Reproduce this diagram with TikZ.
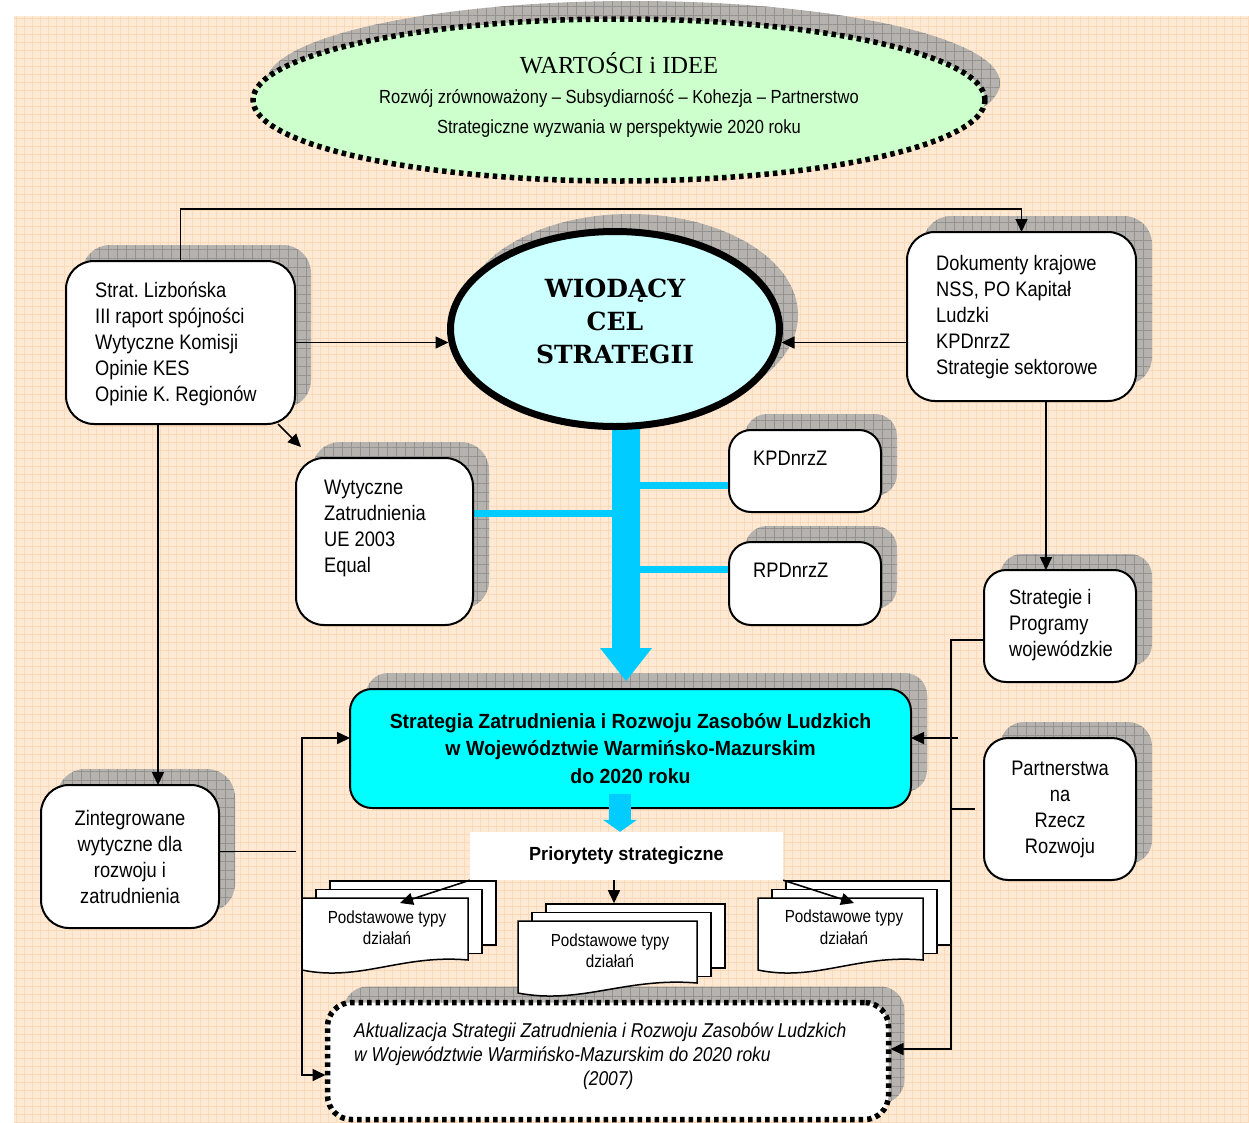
\documentclass[tikz,border=0pt]{standalone}
\usepackage{fontspec}
\usetikzlibrary{shapes.geometric,arrows.meta,calc,patterns.meta}
\newfontfamily\narrowsans[FakeStretch=0.87]{Liberation Sans}
\newfontfamily\narrowbold[FakeStretch=0.95]{Liberation Sans}
\newfontfamily\timesish{Liberation Serif}
\newfontfamily\slabserif{DejaVu Serif}
\definecolor{paper}{RGB}{253,233,212}
\definecolor{paperline}{RGB}{251,218,186}
\definecolor{shadegray}{RGB}{182,178,174}
\definecolor{shadeline}{RGB}{148,146,144}
\definecolor{mint}{RGB}{204,255,204}
\definecolor{icecyan}{RGB}{204,255,255}
\definecolor{aqua}{RGB}{0,255,255}
\definecolor{flowblue}{RGB}{0,204,255}
\pgfdeclarelayer{paperlayer}
\pgfdeclarelayer{shadelayer}
\pgfdeclarelayer{underlayer}
\pgfsetlayers{paperlayer,shadelayer,underlayer,main}
\frenchspacing

% stack of three sheets: x, y of the front sheet, sheet width, name of the front sheet corner
\newcommand\docstack[4]{%
  \draw[page] (#1+28,#2-17) rectangle ++(#3,64);
  \draw[page] (#1+14,#2-8.5) rectangle ++(#3,64);
  \draw[page] (#1,#2) coordinate (#4) -- ++(#3,0) -- ++(0,62)
    .. controls (#1+0.6*#3,#2+56) and (#1+0.35*#3,#2+84) .. (#1,#2+72) -- cycle;}
% grey hatched drop shadow of a rounded box
\newcommand\shadebox[2]{%
  \fill[shade, rounded corners=#2] ([shift={(16,-16)}]#1.south west) rectangle ([shift={(16,-16)}]#1.north east);}

\begin{document}
\begin{tikzpicture}[x=1pt,y=-1pt,
  panel/.style={draw, line width=2pt, fill=white, rounded corners=#1, inner sep=0pt, outer sep=0pt},
  panel/.default=28pt,
  dotted border/.style={line width=5.5pt, dash pattern=on 4.5pt off 4pt},
  txt/.style={inner sep=0pt, align=left, font=\narrowsans\fontsize{21}{26}\selectfont},
  ctxt/.style={txt, align=center},
  tip/.style={-{Triangle[length=13pt,width=12pt]}},
  arr/.style={line width=1.6pt, tip},
  link/.style={line width=1.6pt},
  bar/.style={line width=7pt, draw=flowblue},
  shade/.style={fill=shadegray, postaction={pattern={Hatch[distance=9pt,angle=0,line width=0.6pt]}, pattern color=shadeline}},
  page/.style={draw, fill=white, line width=1.5pt},
  pagetxt/.style={inner sep=0pt, align=center, font=\narrowsans\fontsize{17.5}{21.5}\selectfont},
]
\useasboundingbox (0,0) rectangle (1249,1122);

% squared paper
\begin{pgfonlayer}{paperlayer}
  \fill[paper] (14,16) rectangle (1249,1122);
  \fill[pattern={Hatch[distance=8pt,angle=0,line width=0.6pt]}, pattern color=paperline] (14,16) rectangle (1249,1122);
\end{pgfonlayer}

% values ellipse
\node[ellipse, draw, fill=mint, dotted border,
      minimum width=732pt, minimum height=162pt, inner sep=0pt, outer sep=0pt] (values) at (619,100) {};
\node[ctxt, font=\narrowsans\fontsize{19}{30}\selectfont] (valuesT) at (619,95)
  {{\timesish\fontsize{24.5}{30}\selectfont WARTOŚCI i IDEE}\\Rozwój zrównoważony – Subsydiarność – Kohezja – Partnerstwo\\Strategiczne wyzwania w perspektywie 2020 roku};

% leading goal
\node[ellipse, draw, fill=icecyan, line width=7pt, minimum width=329pt, minimum height=195pt,
      inner sep=0pt, outer sep=0pt] (goal) at (615,329) {};
\node[ctxt, font=\slabserif\bfseries\fontsize{25}{33}\selectfont] (goalT) at (615,321) {WIODĄCY\\CEL\\STRATEGII};

% source documents
\node[panel, minimum width=229pt, minimum height=163pt] (lisbon) at (180.5,342.5) {};
\node[txt, anchor=west] (lisbonT) at (95,344) {Strat. Lizbońska\\III raport spójności\\Wytyczne Komisji\\Opinie KES\\Opinie K. Regionów};

\node[panel, minimum width=229pt, minimum height=169pt] (national) at (1021.5,316.5) {};
\node[txt, anchor=west] (nationalT) at (936,317) {Dokumenty krajowe\\NSS, PO Kapitał\\Ludzki\\KPDnrzZ\\Strategie sektorowe};

\node[panel, minimum width=177pt, minimum height=167pt] (euguide) at (384.5,541.5) {};
\node[txt, anchor=west] (euguideT) at (324,528) {Wytyczne\\Zatrudnienia\\UE 2003\\Equal};

\node[panel=22pt, minimum width=152pt, minimum height=82pt] (kpd) at (805,471) {};
\node[txt, anchor=west] (kpdT) at (753,458) {KPDnrzZ};
\node[panel=22pt, minimum width=152pt, minimum height=83pt] (rpd) at (805,583.5) {};
\node[txt, anchor=west] (rpdT) at (753,570) {RPDnrzZ};

\node[panel=22pt, minimum width=152pt, minimum height=112pt] (regional) at (1060,626) {};
\node[txt, anchor=west] (regionalT) at (1009,625) {Strategie i\\Programy\\wojewódzkie};

\node[panel=24pt, ctxt, minimum width=152pt, minimum height=142pt] (partners) at (1060,809)
  {Partnerstwa\\na\\Rzecz\\Rozwoju};

\node[panel, ctxt, minimum width=178pt, minimum height=143pt] (integrated) at (130,856.5)
  {Zintegrowane\\wytyczne dla\\rozwoju i\\zatrudnienia};

% the strategy
\node[panel=22pt, fill=aqua, align=center, minimum width=561pt, minimum height=119pt,
      font=\narrowbold\bfseries\fontsize{20.5}{27.5}\selectfont] (plan) at (630.5,748.5)
  {Strategia Zatrudnienia i Rozwoju Zasobów Ludzkich\\w Województwie Warmińsko-Mazurskim\\do 2020 roku};

\node[fill=white, inner sep=0pt, minimum width=313pt, minimum height=48pt,
      font=\narrowbold\bfseries\fontsize{19}{22}\selectfont] (prio) at (626.5,856) {Priorytety strategiczne};

% update of the strategy
\node[panel=24pt, dotted border, minimum width=561pt, minimum height=117pt] (update) at (608,1061) {};
\node[txt, anchor=west, font=\narrowsans\itshape\fontsize{20}{24}\selectfont] (updateT) at (354,1056.5)
  {Aktualizacja Strategii Zatrudnienia i Rozwoju Zasobów Ludzkich\\w Województwie Warmińsko-Mazurskim do 2020 roku\\\makebox[508pt]{(2007)}};

% drop shadows
\begin{pgfonlayer}{shadelayer}
  \fill[shade] ([shift={(14,-17)}]values.center) ellipse [x radius=367, y radius=82];
  \fill[shade] ([shift={(15,-14)}]goal.center) ellipse [x radius=168, y radius=101];
  \shadebox{lisbon}{28pt}
  \shadebox{national}{28pt}
  \shadebox{euguide}{28pt}
  \shadebox{kpd}{22pt}
  \shadebox{rpd}{22pt}
  \shadebox{regional}{22pt}
  \shadebox{partners}{24pt}
  \shadebox{integrated}{28pt}
  \shadebox{plan}{22pt}
  \shadebox{update}{24pt}
\end{pgfonlayer}

% broad blue flow from the goal to the strategy
\begin{pgfonlayer}{underlayer}
  \coordinate (shaftx) at (626,0);
  \draw[draw=flowblue, line width=28pt, -{Triangle[length=33pt,width=52pt,line width=0pt]}, shorten >=8pt]
    (goal.south -| shaftx) -- (plan.north -| shaftx);
  \coordinate (wb) at ($(euguide.east)+(0,-28.5)$);
  \draw[bar] (wb) -- (wb -| shaftx);
  \coordinate (kb) at ($(kpd.west)+(0,14)$);
  \draw[bar] (kb) -- (kb -| shaftx);
  \coordinate (rbb) at ($(rpd.west)+(0,-14.5)$);
  \draw[bar] (rbb) -- (rbb -| shaftx);
\end{pgfonlayer}

% blue flow to the priorities
\coordinate (smallx) at (620,0);
\coordinate (sa) at ([yshift=14pt]plan.south);
\draw[draw=flowblue, line width=22pt, -{Triangle[length=12pt,width=34pt,line width=0pt]}]
  (sa -| smallx) -- (prio.north -| smallx);

% sheets of basic actions
\docstack{302}{898}{166}{docL}
\docstack{518}{921}{179}{docM}
\docstack{758}{898}{165}{docR}
\node[pagetxt] (docLT) at ($(docL)+(85,29.5)$) {Podstawowe typy\\działań};
\node[pagetxt] (docMT) at ($(docM)+(92,29.5)$) {Podstawowe typy\\działań};
\node[pagetxt] (docRT) at ($(docR)+(86,29)$) {Podstawowe typy\\działań};

\draw[arr] (prio.south west) -- ($(docL)+(98,5)$);
\draw[arr] ($(prio.south)+(-12.5,0)$) -- ($(prio.south)+(-12.5,23)$);
\draw[arr] (prio.south east) -- ($(docR)+(96,5)$);

% black connectors
\coordinate (topbus) at (600,209);
\draw[arr] (lisbon.north) |- (topbus) -| (national.north);
\draw[arr, shorten >=2pt] (lisbon.east) -- (lisbon.east -| goal.west);
\draw[arr, shorten >=2pt] (national.west |- lisbon.east) -- (lisbon.east -| goal.east);
\draw[arr] ($(lisbon.south east)+(-17,0)$) -- ($(euguide.north west)+(5,-11)$);
\coordinate (lv) at ($(lisbon.south)+(-22.5,0)$);
\draw[arr] (lv) -- (lv |- integrated.north);
\coordinate (nv) at ($(national.south)+(24.5,0)$);
\draw[arr] (nv) -- (nv |- regional.north);

\coordinate (lb1) at (302,738);
\coordinate (lb2) at (302,1075);
\draw[line width=1.6pt, {Triangle[length=13pt,width=12pt]}-{Triangle[length=13pt,width=12pt]}, shorten >=2pt]
  (lb1 -| plan.west) -- (lb1) -- (lb2) -- (lb2 -| update.west);
\draw[link] ($(integrated.east)+(0,-5)$) -- ++(77,0);

\coordinate (rb) at (951,1049);
\draw[arr, shorten >=2pt] ($(regional.west)+(0,14)$) -| (rb) -- (rb -| update.east);
\coordinate (rbm) at (958,738);
\draw[arr] (rbm) -- (rbm -| plan.east);
\draw[link] ($(partners.west)+(-9,0)$) -- ($(partners.west)+(-33,0)$);
\end{tikzpicture}
\end{document}
